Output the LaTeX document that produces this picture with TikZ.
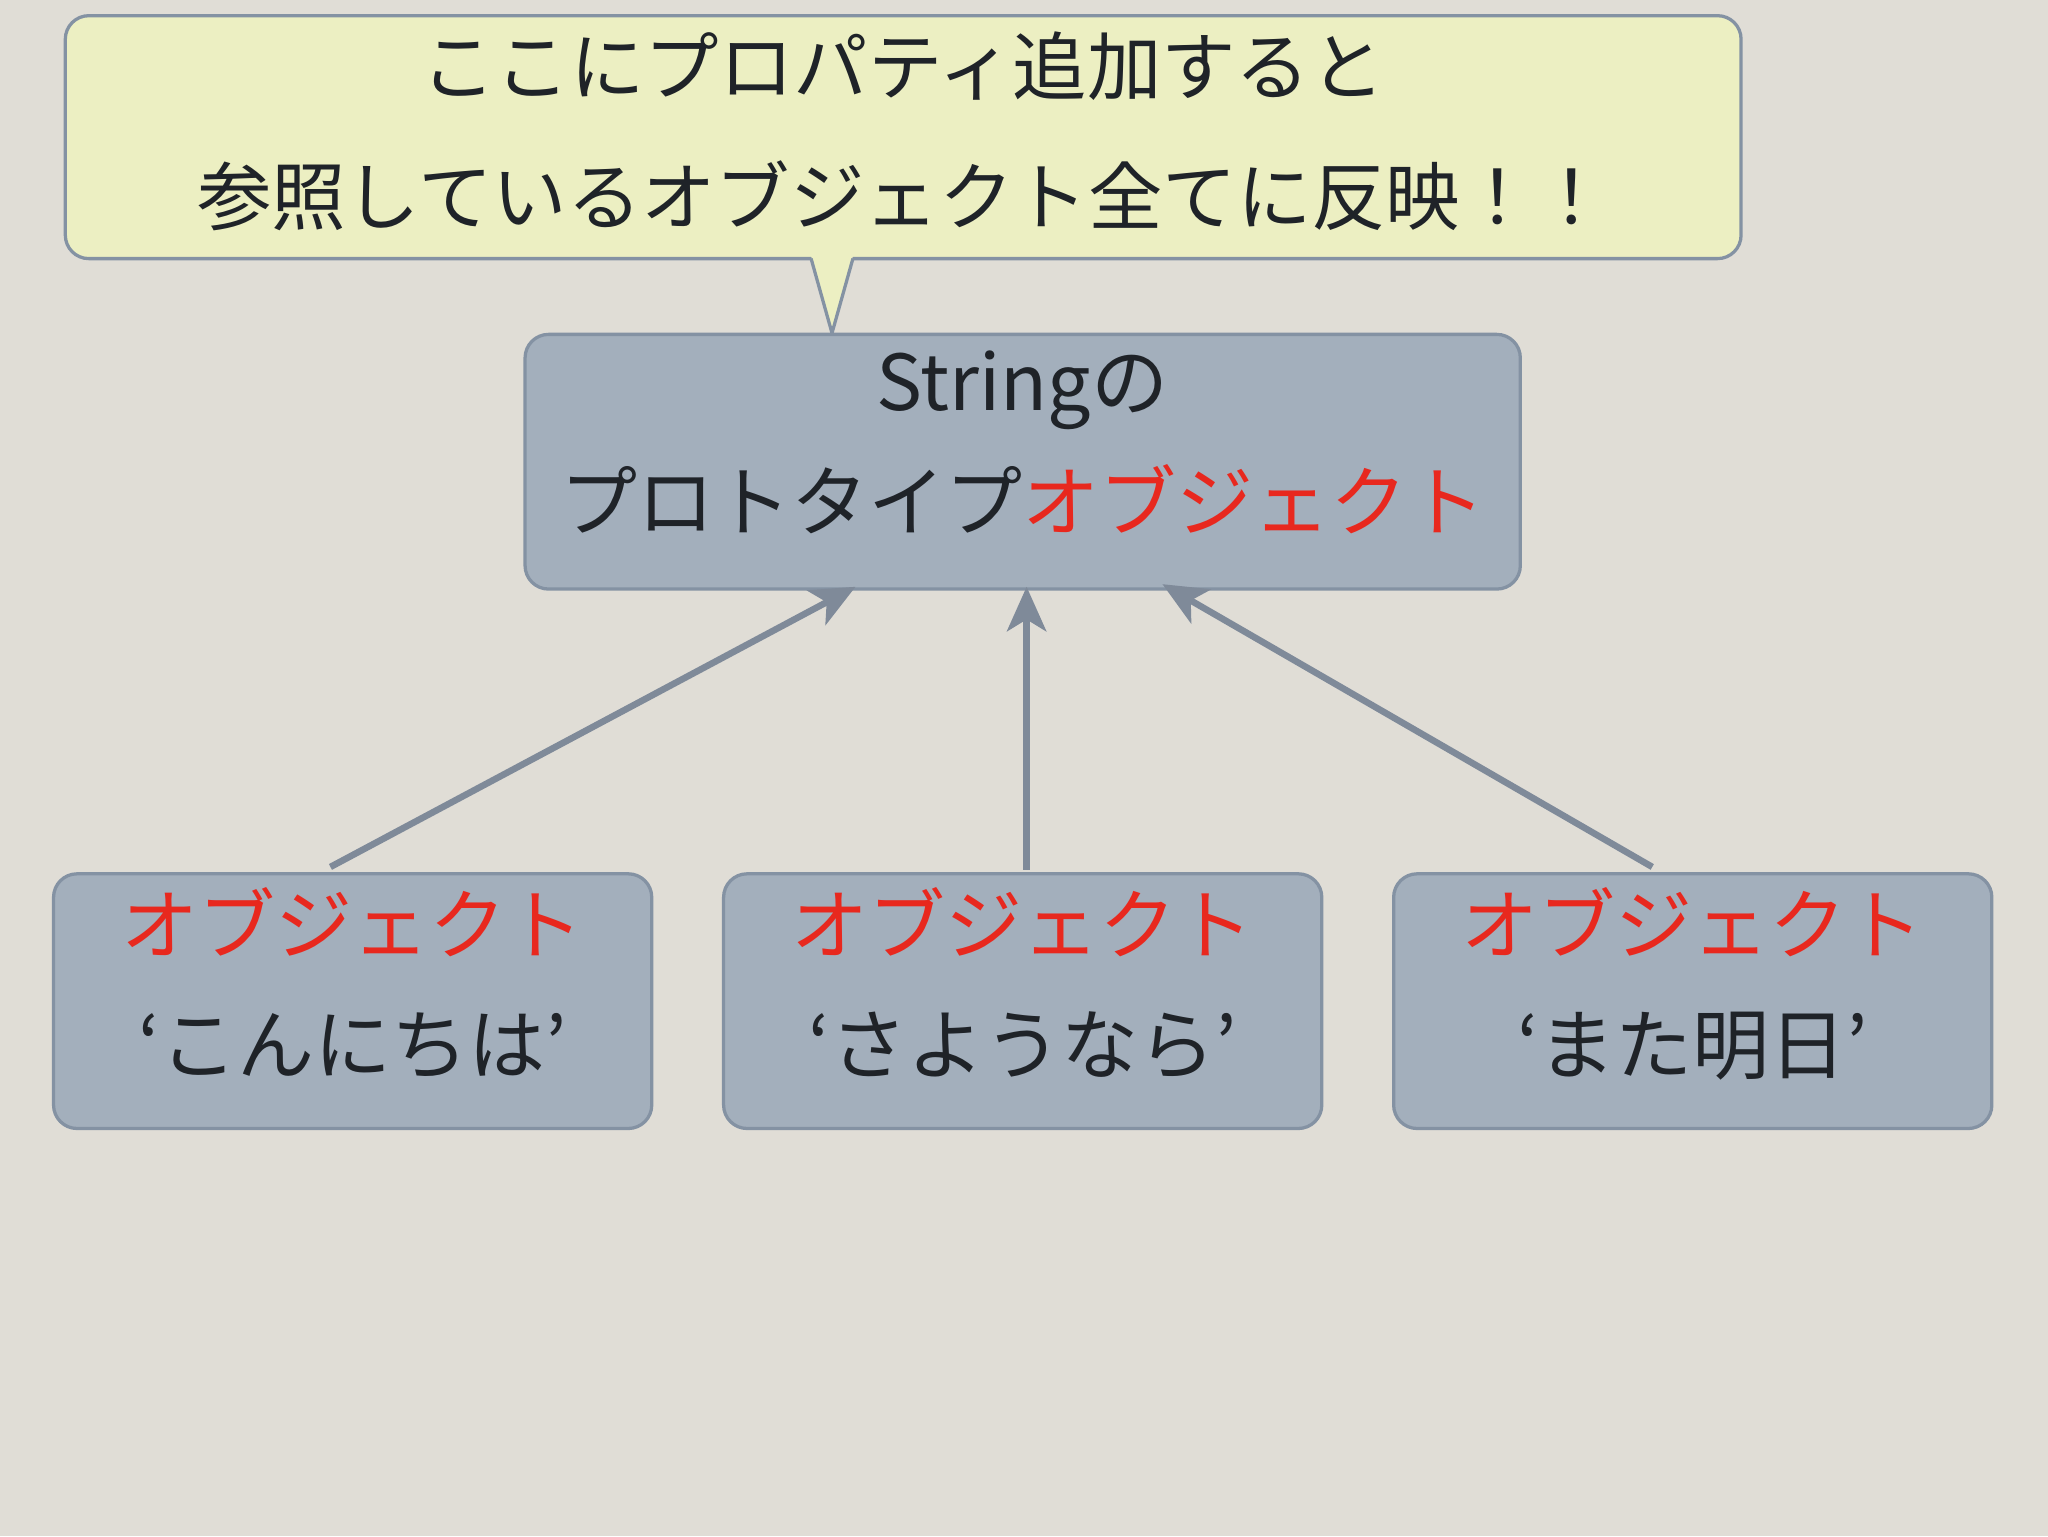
\documentclass[tikz,border=0pt]{standalone}
\usepackage{fontspec}
\newfontfamily\jp{Noto Sans CJK JP}
\usetikzlibrary{arrows.meta}
\definecolor{bg}{HTML}{E0DDD6}
\definecolor{boxf}{HTML}{A3AFBC}
\definecolor{boxd}{HTML}{8492A3}
\definecolor{callf}{HTML}{ECEFC2}
\definecolor{arr}{HTML}{7F8A99}
\definecolor{jred}{HTML}{E8281E}
\definecolor{txt}{HTML}{1F2328}
\tikzset{
 box/.style={draw=boxd,fill=boxf,line width=2.5pt,rounded corners=18pt,align=center,font=\jp\fontsize{59}{92}\selectfont,text=txt,inner sep=0pt,text depth=32pt},
 link/.style={draw=arr,line width=5pt,-{Stealth[length=34pt,width=30pt,inset=9pt]}}
}
\begin{document}
\begin{tikzpicture}[x=1pt,y=-1pt]
\fill[bg] (0,0) rectangle (1568,1176);
\node[box,draw=boxd,fill=callf,minimum width=1283pt,minimum height=186pt,text depth=14pt,font=\jp\fontsize{57}{100}\selectfont] (call) at (691.5,105) {ここにプロパティ追加すると\\参照しているオブジェクト全てに反映！！};
\fill[callf] (621,196) -- (637,255) -- (653,196) -- cycle;
\draw[boxd,line width=2.5pt] (621,198) -- (637,255) -- (653,198);
\node[box,minimum width=762pt,minimum height=195pt] (top) at (783,353.5) {Stringの\\プロトタイプ\textcolor{jred}{オブジェクト}};
\node[box,minimum width=458pt,minimum height=195pt] (b1) at (270,766.5) {\textcolor{jred}{オブジェクト}\\‘こんにちは’};
\node[box,minimum width=458pt,minimum height=195pt] (b2) at (783,766.5) {\textcolor{jred}{オブジェクト}\\‘さようなら’};
\node[box,minimum width=458pt,minimum height=195pt] (b3) at (1296,766.5) {\textcolor{jred}{オブジェクト}\\‘また明日’};
\draw[link] ([xshift=-17pt,yshift=4pt]b1.north) -- ([xshift=-128pt,yshift=3pt]top.south);
\draw[link] ([xshift=3pt,yshift=2pt]b2.north) -- ([xshift=3pt,yshift=3pt]top.south);
\draw[link] ([xshift=-31pt,yshift=4pt]b3.north) -- ([xshift=107pt,yshift=5pt]top.south);
\end{tikzpicture}
\end{document}
